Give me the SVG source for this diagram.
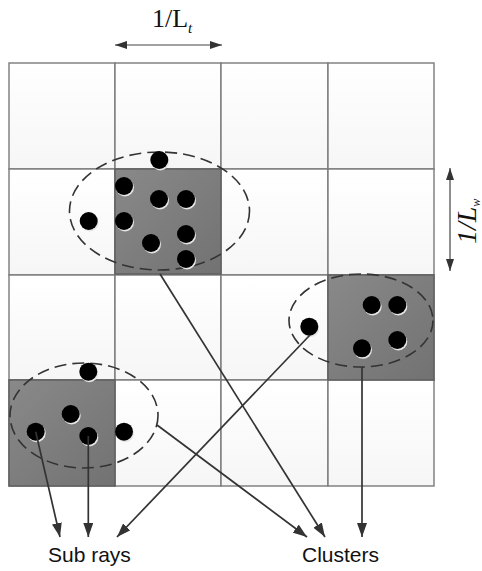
<svg xmlns="http://www.w3.org/2000/svg" width="482" height="571" viewBox="0 0 482 571">
<style>
.cell{fill:url(#cellg);stroke:#7a7a7a;stroke-width:1.4}
.hot{fill:url(#hotg);stroke:#5e5e5e;stroke-width:1.4}
.ell{fill:none;stroke:#333;stroke-width:1.6;stroke-dasharray:12 6}
.dot{fill:#000}
.sh{fill:#e6e6e6}
.con{stroke:#333;stroke-width:1.7;fill:none;marker-end:url(#ah)}
.dim{stroke:#444;stroke-width:1.2;fill:none;marker-end:url(#ah2);marker-start:url(#ah2)}
.lbl{font-family:"Liberation Sans","Open Sans",sans-serif;font-size:21px;fill:#111}
.math{font-family:"Liberation Serif","DejaVu Serif",serif;fill:#111}
</style>
<defs>
<linearGradient id="cellg" x1="0" y1="0" x2="0" y2="1"><stop offset="0" stop-color="#ffffff"/><stop offset="1" stop-color="#f6f6f6"/></linearGradient>
<linearGradient id="hotg" x1="0" y1="0" x2="1" y2="1"><stop offset="0" stop-color="#898989"/><stop offset="1" stop-color="#727272"/></linearGradient>
<marker id="ah" viewBox="0 0 14 10" refX="14" refY="5" markerWidth="14" markerHeight="10" orient="auto" markerUnits="userSpaceOnUse"><path d="M0,0 L14,5 L0,10 Z" fill="#333"/></marker>
<marker id="ah2" viewBox="0 0 12 8" refX="12" refY="4" markerWidth="12" markerHeight="8" orient="auto-start-reverse" markerUnits="userSpaceOnUse"><path d="M0,0 L12,4 L0,8 Z" fill="#333"/></marker>
</defs>
<rect width="482" height="571" fill="#fff"/>
<g id="grid">
<rect class="cell" x="9" y="63" width="106" height="106"/>
<rect class="cell" x="115" y="63" width="106" height="106"/>
<rect class="cell" x="221" y="63" width="107" height="106"/>
<rect class="cell" x="328" y="63" width="106" height="106"/>
<rect class="cell" x="9" y="169" width="106" height="106"/>
<rect class="cell" x="115" y="169" width="106" height="106"/>
<rect class="cell" x="221" y="169" width="107" height="106"/>
<rect class="cell" x="328" y="169" width="106" height="106"/>
<rect class="cell" x="9" y="275" width="106" height="105"/>
<rect class="cell" x="115" y="275" width="106" height="105"/>
<rect class="cell" x="221" y="275" width="107" height="105"/>
<rect class="cell" x="328" y="275" width="106" height="105"/>
<rect class="cell" x="9" y="380" width="106" height="106"/>
<rect class="cell" x="115" y="380" width="106" height="106"/>
<rect class="cell" x="221" y="380" width="107" height="106"/>
<rect class="cell" x="328" y="380" width="106" height="106"/>
</g>
<g id="cluster-top">
<rect class="hot" x="115" y="169" width="106" height="105"/>
<ellipse class="ell" cx="159.5" cy="211" rx="90" ry="59"/>
<g class="sh"><circle cx="160.3" cy="161.5" r="9"/><circle cx="125" cy="187.5" r="9"/><circle cx="160" cy="200.5" r="9"/><circle cx="187" cy="200.5" r="9"/><circle cx="89.7" cy="222.5" r="9"/><circle cx="125" cy="222.5" r="9"/><circle cx="187" cy="235.5" r="9"/><circle cx="152" cy="244.5" r="9"/><circle cx="187" cy="260.5" r="9"/></g>
<g class="dot"><circle cx="159.3" cy="160" r="9"/><circle cx="124" cy="186" r="9"/><circle cx="159" cy="199" r="9"/><circle cx="186" cy="199" r="9"/><circle cx="88.7" cy="221" r="9"/><circle cx="124" cy="221" r="9"/><circle cx="186" cy="234" r="9"/><circle cx="151" cy="243" r="9"/><circle cx="186" cy="259" r="9"/></g>
</g>
<g id="cluster-right">
<rect class="hot" x="328" y="275" width="106" height="105"/>
<ellipse class="ell" cx="361" cy="320.5" rx="72" ry="46.5"/>
<g class="sh"><circle cx="372.7" cy="306.5" r="9"/><circle cx="398.3" cy="306.5" r="9"/><circle cx="310.3" cy="328.2" r="9"/><circle cx="398.3" cy="341.5" r="9"/><circle cx="363" cy="349.8" r="9"/></g>
<g class="dot"><circle cx="371.7" cy="305" r="9"/><circle cx="397.3" cy="305" r="9"/><circle cx="309.3" cy="326.7" r="9"/><circle cx="397.3" cy="340" r="9"/><circle cx="362" cy="348.3" r="9"/></g>
</g>
<g id="cluster-bottom">
<rect class="hot" x="9" y="380" width="106" height="106"/>
<ellipse class="ell" cx="84" cy="415.5" rx="74" ry="52.5"/>
<g class="sh"><circle cx="89.3" cy="373.2" r="9"/><circle cx="71.7" cy="415.5" r="9"/><circle cx="36.7" cy="433.2" r="9"/><circle cx="89.3" cy="437.5" r="9"/><circle cx="125" cy="433.2" r="9"/></g>
<g class="dot"><circle cx="88.3" cy="371.7" r="9"/><circle cx="70.7" cy="414" r="9"/><circle cx="35.7" cy="431.7" r="9"/><circle cx="88.3" cy="436" r="9"/><circle cx="124" cy="431.7" r="9"/></g>
</g>
<g id="connectors">
<line class="con" x1="35.7" y1="431.7" x2="60" y2="537"/>
<line class="con" x1="88.3" y1="436" x2="88.3" y2="537"/>
<line class="con" x1="310" y1="335" x2="117" y2="537"/>
<line class="con" x1="157" y1="425" x2="307" y2="537"/>
<line class="con" x1="160" y1="274" x2="325" y2="537"/>
<line class="con" x1="362" y1="367" x2="362" y2="537"/>
<line class="dim" x1="115" y1="45" x2="222" y2="45"/>
<line class="dim" x1="450" y1="168" x2="450" y2="271"/>
</g>
<g id="labels">
<text class="math" x="152" y="27" font-size="26">1/L<tspan font-size="15" font-style="italic" dy="6">t</tspan></text>
<text class="math" transform="translate(476,244) rotate(-90)" font-size="28" font-style="italic">1/L<tspan font-size="12" dy="4">w</tspan></text>
<text class="lbl" x="48" y="562">Sub rays</text>
<text class="lbl" x="302" y="562">Clusters</text>
</g>
</svg>
